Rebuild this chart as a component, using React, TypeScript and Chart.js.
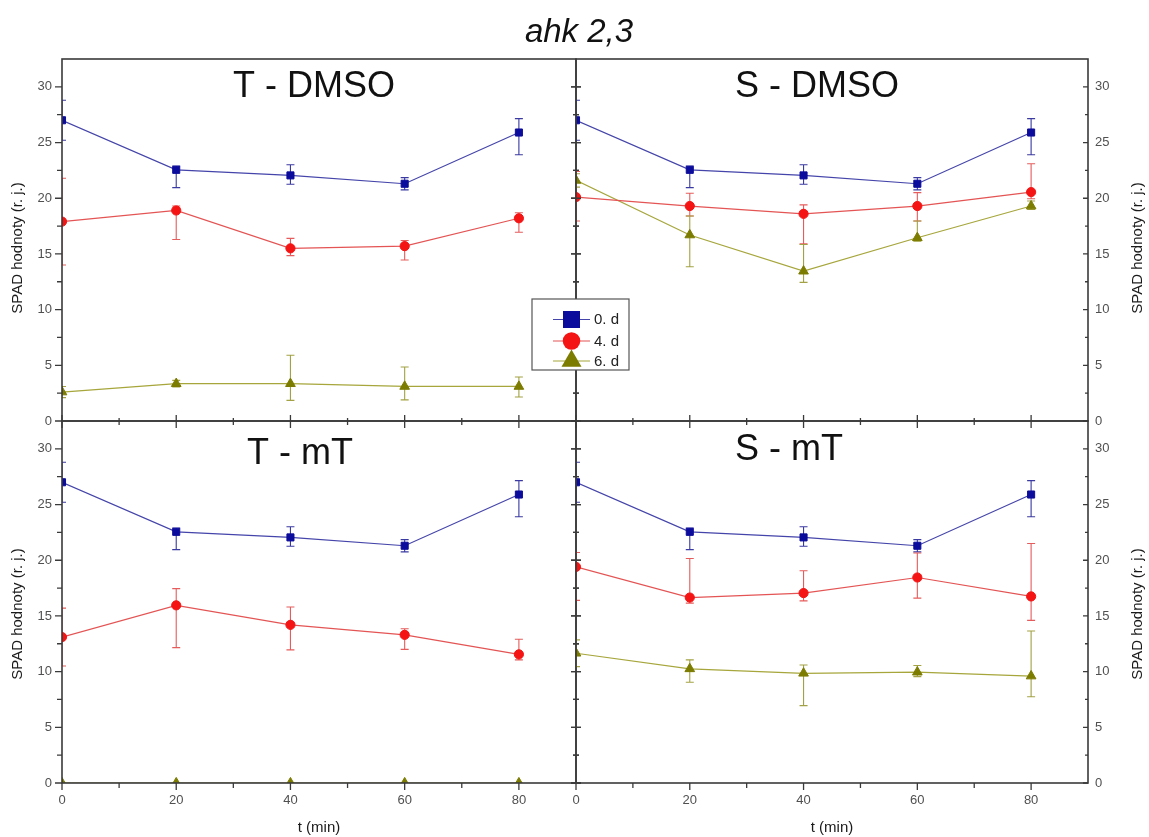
import { useEffect, useRef } from "react";
import { Chart, registerables } from "chart.js";

Chart.register(...registerables);

const W = 1149;
const H = 837;
const FONT = '"Liberation Sans", Arial, sans-serif';

// ---------- data ----------
const times = [0, 20, 40, 60, 80];
const seriesLabels = ["0. d", "4. d", "6. d"];
const xTickValues = [0, 20, 40, 60, 80];
const xMinorValues = [10, 30, 50, 70];
const yTickValues = [0, 5, 10, 15, 20, 25, 30];
const yMinorValues = [2.5, 7.5, 12.5, 17.5, 22.5, 27.5];
const X_MAX = 90;
const Y_MAX = 32.5;
const mainTitle = "ahk 2,3";
const yAxisTitle = "SPAD hodnoty (r. j.)";
const xAxisTitle = "t (min)";
const panelTitles = ["T - DMSO", "S - DMSO", "T - mT", "S - mT"];

// 0. d (same in every panel)
const day0 = [27.0, 22.55, 22.05, 21.3, 25.9];
const day0ErrUp = [1.8, 0.35, 0.95, 0.55, 1.25];
const day0ErrDown = [1.8, 1.6, 0.8, 0.55, 2.0];

// T - DMSO
const tDmsoDay4 = [17.9, 18.9, 15.5, 15.7, 18.2];
const tDmsoDay4Up = [3.9, 0.4, 0.9, 0.5, 0.5];
const tDmsoDay4Down = [3.9, 2.6, 0.65, 1.25, 1.25];
const tDmsoDay6 = [2.6, 3.35, 3.35, 3.1, 3.1];
const tDmsoDay6Up = [0.5, 0.3, 2.55, 1.75, 0.85];
const tDmsoDay6Down = [0.5, 0.3, 1.5, 1.2, 0.95];

// S - DMSO
const sDmsoDay4 = [20.1, 19.3, 18.6, 19.3, 20.55];
const sDmsoDay4Up = [2.3, 1.15, 0.8, 1.2, 2.55];
const sDmsoDay4Down = [2.15, 0.9, 2.7, 1.35, 0.6];
const sDmsoDay6 = [21.6, 16.7, 13.45, 16.45, 19.3];
const sDmsoDay6Up = [0.6, 1.7, 2.4, 1.5, 0.45];
const sDmsoDay6Down = [0.6, 2.85, 1.0, 0.3, 0.3];

// T - mT
const tMtDay4 = [13.1, 15.95, 14.2, 13.3, 11.55];
const tMtDay4Up = [2.6, 1.5, 1.6, 0.55, 1.35];
const tMtDay4Down = [2.6, 3.8, 2.25, 1.3, 0.5];
const tMtDay6 = [0, 0, 0, 0, 0];
const tMtDay6Up = [0, 0, 0, 0, 0];
const tMtDay6Down = [0, 0, 0, 0, 0];

// S - mT
const sMtDay4 = [19.4, 16.65, 17.05, 18.45, 16.75];
const sMtDay4Up = [1.3, 3.5, 2.0, 2.2, 4.75];
const sMtDay4Down = [3.0, 0.5, 0.7, 1.85, 2.15];
const sMtDay6 = [11.65, 10.25, 9.85, 9.95, 9.6];
const sMtDay6Up = [1.2, 0.8, 0.75, 0.6, 4.05];
const sMtDay6Down = [1.2, 1.2, 2.9, 0.4, 1.85];

// ---------- styles ----------
const STYLES = [
  { marker: "#0c0c9c", line: "#4444aa", err: "#3a3aa2", shape: "rect", radius: 5 },
  { marker: "#f41414", line: "#e45454", err: "#e65c5c", shape: "circle", radius: 4.6 },
  { marker: "#7c7c00", line: "#a6a63c", err: "#a2a244", shape: "triangle", radius: 5.6 },
];
const TICK_COLOR = "#505050";
const FRAME_COLOR = "#3a3a3a";

type Mode = "out" | "in" | "cross" | "crossBig";

interface PanelCfg {
  title: string;
  titleX: number;
  titleY: number;
  area: { left: number; top: number; right: number; bottom: number };
  side: "left" | "right";
  bottomLabels: boolean;
  ticks: { left: Mode; right: Mode; bottom: Mode };
  series: { values: number[]; up: number[]; down: number[] }[];
  overlay: boolean;
}

const LEFT_X = 62;
const MID_X = 576;
const RIGHT_X = 1088;
const TOP_Y = 59;
const MID_Y = 421;
const BOT_Y = 783;

const panels: PanelCfg[] = [
  {
    title: panelTitles[0], titleX: 314, titleY: 97,
    area: { left: LEFT_X, top: TOP_Y, right: MID_X, bottom: MID_Y },
    side: "left", bottomLabels: false,
    ticks: { left: "out", right: "cross", bottom: "crossBig" },
    series: [
      { values: day0, up: day0ErrUp, down: day0ErrDown },
      { values: tDmsoDay4, up: tDmsoDay4Up, down: tDmsoDay4Down },
      { values: tDmsoDay6, up: tDmsoDay6Up, down: tDmsoDay6Down },
    ],
    overlay: false,
  },
  {
    title: panelTitles[1], titleX: 817, titleY: 97,
    area: { left: MID_X, top: TOP_Y, right: RIGHT_X, bottom: MID_Y },
    side: "right", bottomLabels: false,
    ticks: { left: "cross", right: "in", bottom: "crossBig" },
    series: [
      { values: day0, up: day0ErrUp, down: day0ErrDown },
      { values: sDmsoDay4, up: sDmsoDay4Up, down: sDmsoDay4Down },
      { values: sDmsoDay6, up: sDmsoDay6Up, down: sDmsoDay6Down },
    ],
    overlay: false,
  },
  {
    title: panelTitles[2], titleX: 300, titleY: 464,
    area: { left: LEFT_X, top: MID_Y, right: MID_X, bottom: BOT_Y },
    side: "left", bottomLabels: true,
    ticks: { left: "out", right: "cross", bottom: "out" },
    series: [
      { values: day0, up: day0ErrUp, down: day0ErrDown },
      { values: tMtDay4, up: tMtDay4Up, down: tMtDay4Down },
      { values: tMtDay6, up: tMtDay6Up, down: tMtDay6Down },
    ],
    overlay: false,
  },
  {
    title: panelTitles[3], titleX: 789, titleY: 460,
    area: { left: MID_X, top: MID_Y, right: RIGHT_X, bottom: BOT_Y },
    side: "right", bottomLabels: true,
    ticks: { left: "cross", right: "in", bottom: "out" },
    series: [
      { values: day0, up: day0ErrUp, down: day0ErrDown },
      { values: sMtDay4, up: sMtDay4Up, down: sMtDay4Down },
      { values: sMtDay6, up: sMtDay6Up, down: sMtDay6Down },
    ],
    overlay: true,
  },
];

function tickLens(mode: Mode, major: boolean): [number, number] {
  // [outward, inward]
  if (mode === "out") return major ? [7, 0] : [5, 0];
  if (mode === "in") return major ? [0, 5] : [0, 3];
  if (mode === "crossBig") return major ? [7, 6] : [4, 3];
  return major ? [5, 5] : [3, 3];
}

function drawMarker(ctx: CanvasRenderingContext2D, shape: string, x: number, y: number, size: number) {
  ctx.beginPath();
  if (shape === "rect") {
    ctx.rect(x - size / 2, y - size / 2, size, size);
  } else if (shape === "circle") {
    ctx.arc(x, y, size / 2, 0, Math.PI * 2);
  } else {
    const h = size * 0.866;
    ctx.moveTo(x, y - (h * 2) / 3);
    ctx.lineTo(x + size / 2, y + h / 3);
    ctx.lineTo(x - size / 2, y + h / 3);
    ctx.closePath();
  }
  ctx.fill();
}

function makeDecor(cfg: PanelCfg) {
  return {
    id: "panelDecor",
    beforeDatasetsDraw(chart: any) {
      const { ctx, chartArea: a, scales } = chart;
      const xs = scales.x;
      const ys = scales.y;
      ctx.save();
      ctx.beginPath();
      ctx.rect(a.left, a.top, a.right - a.left, a.bottom - a.top);
      ctx.clip();
      chart.data.datasets.forEach((ds: any) => {
        ctx.strokeStyle = ds.errColor;
        ctx.lineWidth = 1.1;
        ds.data.forEach((p: any, i: number) => {
          const up = ds.errUp[i];
          const down = ds.errDown[i];
          if (!up && !down) return;
          const px = xs.getPixelForValue(p.x);
          const t = ys.getPixelForValue(p.y + up);
          const b = ys.getPixelForValue(p.y - down);
          ctx.beginPath();
          ctx.moveTo(px, t);
          ctx.lineTo(px, b);
          ctx.moveTo(px - 4, t);
          ctx.lineTo(px + 4, t);
          ctx.moveTo(px - 4, b);
          ctx.lineTo(px + 4, b);
          ctx.stroke();
        });
      });
      ctx.restore();
    },
    afterDatasetsDraw(chart: any) {
      const { ctx, chartArea: a, scales } = chart;
      const xs = scales.x;
      const ys = scales.y;
      ctx.save();
      // frame
      ctx.strokeStyle = FRAME_COLOR;
      ctx.lineWidth = 1.6;
      ctx.strokeRect(a.left, a.top, a.right - a.left, a.bottom - a.top);
      // ticks
      ctx.lineWidth = 1.3;
      ctx.beginPath();
      const vTick = (x: number, vals: number[], major: boolean, mode: Mode, dir: number) => {
        const [o, i] = tickLens(mode, major);
        vals.forEach((v) => {
          const py = ys.getPixelForValue(v);
          ctx.moveTo(x - dir * o, py);
          ctx.lineTo(x + dir * i, py);
        });
      };
      vTick(a.left, yTickValues, true, cfg.ticks.left, 1);
      vTick(a.left, yMinorValues, false, cfg.ticks.left, 1);
      vTick(a.right, yTickValues, true, cfg.ticks.right, -1);
      vTick(a.right, yMinorValues, false, cfg.ticks.right, -1);
      const hTick = (vals: number[], major: boolean, mode: Mode) => {
        const [o, i] = tickLens(mode, major);
        vals.forEach((v) => {
          const px = xs.getPixelForValue(v);
          ctx.moveTo(px, a.bottom + o);
          ctx.lineTo(px, a.bottom - i);
        });
      };
      hTick(xTickValues, true, cfg.ticks.bottom);
      hTick(xMinorValues, false, cfg.ticks.bottom);
      ctx.stroke();

      // panel title
      ctx.fillStyle = "#111";
      ctx.font = `36px ${FONT}`;
      ctx.textAlign = "center";
      ctx.textBaseline = "alphabetic";
      ctx.fillText(cfg.title, cfg.titleX, cfg.titleY);

      // y axis title
      ctx.fillStyle = "#1a1a1a";
      ctx.font = `15px ${FONT}`;
      ctx.textBaseline = "middle";
      const ty = cfg.area.top < 200 ? 248 : 614;
      const tx = cfg.side === "left" ? 18 : 1138;
      ctx.save();
      ctx.translate(tx, ty);
      ctx.rotate(-Math.PI / 2);
      ctx.fillText(yAxisTitle, 0, 0);
      ctx.restore();

      // x axis title
      if (cfg.bottomLabels) {
        ctx.fillText(xAxisTitle, (a.left + a.right) / 2, 828);
      }
      ctx.restore();
    },
    afterDraw(chart: any) {
      if (!cfg.overlay) return;
      const { ctx } = chart;
      ctx.save();
      // main title
      ctx.fillStyle = "#111";
      ctx.font = `italic 33px ${FONT}`;
      ctx.textAlign = "center";
      ctx.textBaseline = "alphabetic";
      ctx.fillText(mainTitle, 579, 42);

      // legend
      const bx = 532, by = 299, bw = 97, bh = 71;
      ctx.fillStyle = "#fff";
      ctx.fillRect(bx, by, bw, bh);
      ctx.strokeStyle = "#555";
      ctx.lineWidth = 1.2;
      ctx.strokeRect(bx, by, bw, bh);
      const rows = [319.5, 341, 361];
      const sizes = [17, 17.5, 20];
      chart.data.datasets.forEach((ds: any, i: number) => {
        const st = STYLES[i];
        const ry = rows[i];
        ctx.strokeStyle = st.line;
        ctx.lineWidth = 1.2;
        ctx.beginPath();
        ctx.moveTo(553, ry);
        ctx.lineTo(590, ry);
        ctx.stroke();
        ctx.fillStyle = st.marker;
        drawMarker(ctx, st.shape, 571.5, ry, sizes[i]);
        ctx.fillStyle = "#222";
        ctx.font = `15px ${FONT}`;
        ctx.textAlign = "left";
        ctx.textBaseline = "middle";
        ctx.fillText(ds.label, 594, ry + 0.5);
      });
      ctx.restore();
    },
  };
}

function buildChart(canvas: HTMLCanvasElement, cfg: PanelCfg) {
  const datasets = cfg.series.map((s, i) => {
    const st = STYLES[i];
    return {
      label: seriesLabels[i],
      data: times.map((t, k) => ({ x: t, y: s.values[k] })),
      borderColor: st.line,
      borderWidth: 1.2,
      pointStyle: st.shape,
      pointRadius: st.radius,
      pointBackgroundColor: st.marker,
      pointBorderColor: st.marker,
      pointBorderWidth: 1,
      tension: 0,
      clip: 0,
      errUp: s.up,
      errDown: s.down,
      errColor: st.err,
    } as any;
  });
  const a = cfg.area;
  return new Chart(canvas, {
    type: "line",
    data: { datasets },
    options: {
      responsive: false,
      animation: false,
      devicePixelRatio: 1,
      events: [],
      layout: {
        padding: {
          left: cfg.side === "left" ? 0 : a.left,
          right: cfg.side === "left" ? W - a.right : 0,
          top: a.top,
          bottom: cfg.bottomLabels ? 0 : H - a.bottom,
        },
      },
      plugins: {
        legend: { display: false },
        tooltip: { enabled: false },
        title: { display: false },
      },
      scales: {
        x: {
          type: "linear",
          min: 0,
          max: X_MAX,
          position: "bottom",
          grid: { display: false, drawTicks: false },
          border: { display: false },
          ticks: {
            display: cfg.bottomLabels,
            stepSize: 20,
            includeBounds: false,
            autoSkip: false,
            maxRotation: 0,
            color: TICK_COLOR,
            font: { family: FONT, size: 13 },
            padding: 10,
          },
          afterFit: (s: any) => {
            s.height = cfg.bottomLabels ? H - a.bottom : 0;
          },
        },
        y: {
          type: "linear",
          min: 0,
          max: Y_MAX,
          position: cfg.side,
          grid: { display: false, drawTicks: false },
          border: { display: false },
          ticks: {
            stepSize: 5,
            includeBounds: false,
            color: TICK_COLOR,
            font: { family: FONT, size: 13 },
            padding: cfg.side === "left" ? 10 : 7,
          },
          afterFit: (s: any) => {
            s.width = cfg.side === "left" ? a.left : W - a.right;
          },
        },
      },
    } as any,
    plugins: [makeDecor(cfg)],
  });
}

export default function App() {
  const refs = useRef<(HTMLCanvasElement | null)[]>([]);

  useEffect(() => {
    const charts = panels.map((cfg, i) => buildChart(refs.current[i] as HTMLCanvasElement, cfg));
    return () => charts.forEach((c) => c.destroy());
  }, []);

  return (
    <div>
      {panels.map((cfg, i) => (
        <canvas
          key={cfg.title}
          ref={(el) => {
            refs.current[i] = el;
          }}
          width={W}
          height={H}
          style={{ position: "absolute", left: 0, top: 0, width: W, height: H }}
        />
      ))}
    </div>
  );
}
